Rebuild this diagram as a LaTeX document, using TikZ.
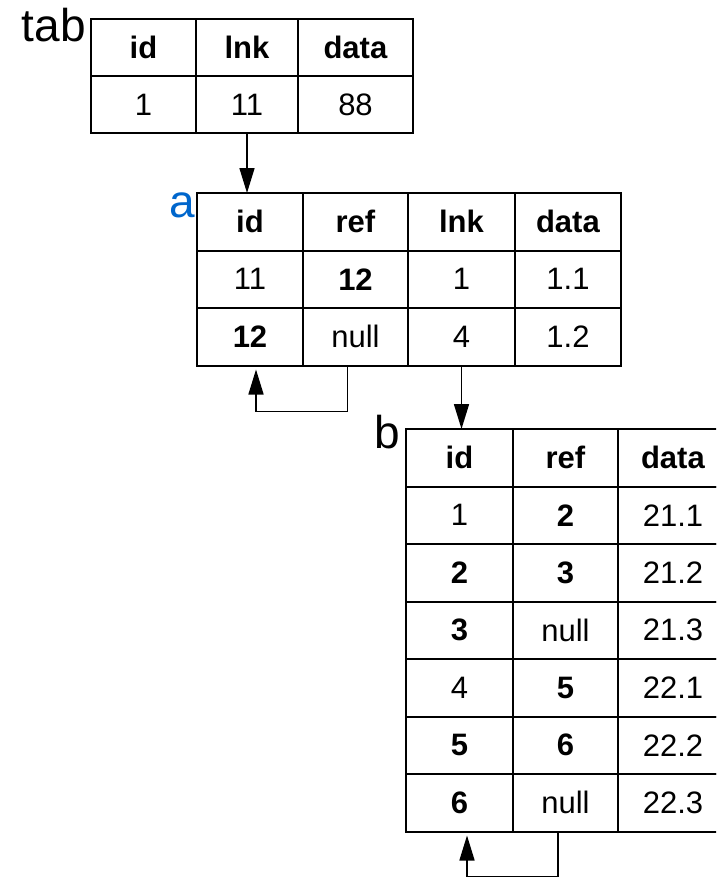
\documentclass[tikz,border=0pt]{standalone}
\usepackage{fontspec}
\setmainfont{Liberation Sans}
\usetikzlibrary{matrix,arrows.meta}
\definecolor{nameblue}{HTML}{0066CC}
\newcommand\cellfont{\fontsize{31}{36}\selectfont}
\newcommand\namefont{\fontsize{46}{52}\selectfont}

\begin{document}
\begin{tikzpicture}[x=1pt, y=-1pt,
  table/.style={matrix of nodes, inner sep=0pt, outer sep=0pt,
    column sep=-2pt, row sep=-2pt,
    nodes={draw, line width=2pt, inner sep=0pt, anchor=center,
      minimum height=57.5pt, font=\cellfont}},
  tname/.style={inner sep=0pt, anchor=base east, font=\namefont},
  link/.style={line width=1.6pt, -{Triangle[length=25pt, width=15pt]}}]
  \useasboundingbox (0,0) rectangle (716,880);
  \clip (0,0) rectangle (716,880);

  % outer table
  \matrix (tab) [table, anchor=north west,
    row 1/.style={nodes={minimum height=57pt}},
    row 2/.style={nodes={minimum height=57pt}},
    column 1/.style={nodes={minimum width=105pt}},
    column 2/.style={nodes={minimum width=102pt}},
    column 3/.style={nodes={minimum width=115pt}}] at (90,18) {
    \textbf{id} & \textbf{lnk} & \textbf{data} \\
    1 & 11 & 88 \\
  };
  \node[tname] (tabname) at ([shift={(-4,24)}]tab.north west) {tab};

  % table a
  \matrix (a) [table, anchor=north west,
    column 1/.style={nodes={minimum width=106pt}},
    column 2/.style={nodes={minimum width=105pt}},
    column 3/.style={nodes={minimum width=107pt}},
    column 4/.style={nodes={minimum width=106pt}}] at (196,192) {
    \textbf{id} & \textbf{ref} & \textbf{lnk} & \textbf{data} \\
    11 & \textbf{12} & 1 & 1.1 \\
    \textbf{12} & null & 4 & 1.2 \\
  };
  \node[tname, text=nameblue] (aname) at ([shift={(-1,25)}]a.north west) {a};

  % table b
  \matrix (b) [table, anchor=north west,
    column 1/.style={nodes={minimum width=107pt}},
    column 2/.style={nodes={minimum width=105pt}},
    column 3/.style={nodes={minimum width=110pt}}] at (405,428) {
    \textbf{id} & \textbf{ref} & \textbf{data} \\
    1 & \textbf{2} & 21.1 \\
    \textbf{2} & \textbf{3} & 21.2 \\
    \textbf{3} & null & 21.3 \\
    4 & \textbf{5} & 22.1 \\
    \textbf{5} & \textbf{6} & 22.2 \\
    \textbf{6} & null & 22.3 \\
  };
  \node[tname] (bname) at ([shift={(-5,20)}]b.north west) {b};

  % links
  \draw[link] (tab-2-2.south) -- (tab-2-2.south |- a-1-1.north);
  \draw[link] (a-3-3.south) -- (a-3-3.south |- b-1-1.north);
  \draw[link] ([xshift=-8pt]a-3-2.south) -- ++(0,46)
    -| ([xshift=6pt, yshift=-4pt]a-3-1.south);
  \draw[link] ([xshift=-7.5pt]b-7-2.south) -- ++(0,45)
    -| ([xshift=7.5pt, yshift=-4pt]b-7-1.south);
\end{tikzpicture}
\end{document}
